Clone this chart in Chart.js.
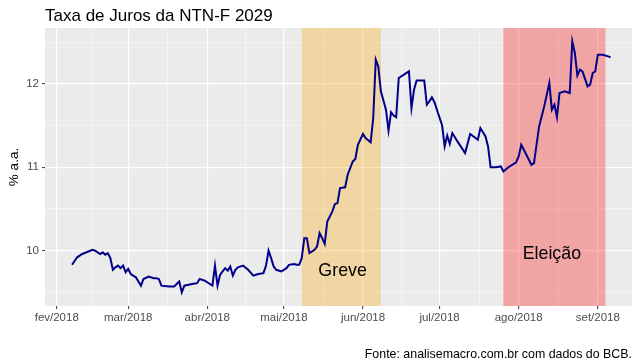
<!DOCTYPE html>
<html>
<head>
<meta charset="utf-8">
<script src="https://cdn.jsdelivr.net/npm/chart.js@4"></script>
<style>
  body { margin: 0; background: #ffffff; }
  canvas { display: block; }
</style>
</head>
<body>
<canvas id="chart" width="640" height="364"></canvas>
<script>
// NTN-F 2029 yield
const dates = [
  '2018-02-07', '2018-02-09', '2018-02-11', '2018-02-15', '2018-02-16', '2018-02-18', '2018-02-19', '2018-02-20',
  '2018-02-21', '2018-02-22', '2018-02-23', '2018-02-24', '2018-02-25', '2018-02-26', '2018-02-27', '2018-02-28',
  '2018-03-01', '2018-03-02', '2018-03-04', '2018-03-05', '2018-03-06', '2018-03-07', '2018-03-09', '2018-03-11',
  '2018-03-12', '2018-03-13', '2018-03-14', '2018-03-17', '2018-03-19', '2018-03-21', '2018-03-22', '2018-03-23',
  '2018-03-26', '2018-03-28', '2018-03-29', '2018-03-31', '2018-04-02', '2018-04-03', '2018-04-04', '2018-04-05',
  '2018-04-06', '2018-04-07', '2018-04-08', '2018-04-09', '2018-04-10', '2018-04-11', '2018-04-12', '2018-04-13',
  '2018-04-15', '2018-04-17', '2018-04-19', '2018-04-21', '2018-04-23', '2018-04-24', '2018-04-25', '2018-04-26',
  '2018-04-27', '2018-04-28', '2018-04-30', '2018-05-02', '2018-05-03', '2018-05-05', '2018-05-06', '2018-05-07',
  '2018-05-08', '2018-05-09', '2018-05-10', '2018-05-11', '2018-05-13', '2018-05-14', '2018-05-15', '2018-05-16',
  '2018-05-17', '2018-05-18', '2018-05-20', '2018-05-21', '2018-05-22', '2018-05-23', '2018-05-25', '2018-05-26',
  '2018-05-28', '2018-05-29', '2018-05-30', '2018-06-01', '2018-06-02', '2018-06-04', '2018-06-05', '2018-06-06',
  '2018-06-07', '2018-06-08', '2018-06-10', '2018-06-11', '2018-06-12', '2018-06-13', '2018-06-14', '2018-06-15',
  '2018-06-19', '2018-06-20', '2018-06-21', '2018-06-22', '2018-06-25', '2018-06-26', '2018-06-27', '2018-06-28',
  '2018-06-29', '2018-07-02', '2018-07-03', '2018-07-04', '2018-07-05', '2018-07-06', '2018-07-08', '2018-07-11',
  '2018-07-13', '2018-07-16', '2018-07-17', '2018-07-19', '2018-07-20', '2018-07-21', '2018-07-23', '2018-07-25',
  '2018-07-26', '2018-07-28', '2018-07-31', '2018-08-01', '2018-08-02', '2018-08-05', '2018-08-06', '2018-08-07',
  '2018-08-09', '2018-08-11', '2018-08-13', '2018-08-14', '2018-08-15', '2018-08-16', '2018-08-17', '2018-08-19',
  '2018-08-21', '2018-08-22', '2018-08-23', '2018-08-24', '2018-08-25', '2018-08-26', '2018-08-28', '2018-08-29',
  '2018-08-30', '2018-08-31', '2018-09-01', '2018-09-03', '2018-09-05', '2018-09-06'
];
const rates = [
  9.83, 9.92, 9.96, 10.01, 10.00, 9.96, 9.98, 9.95,
  9.97, 9.91, 9.77, 9.80, 9.82, 9.79, 9.82, 9.74,
  9.78, 9.72, 9.68, 9.63, 9.58, 9.66, 9.69, 9.67,
  9.67, 9.66, 9.58, 9.57, 9.57, 9.63, 9.50, 9.58,
  9.60, 9.61, 9.66, 9.64, 9.60, 9.58, 9.82, 9.58,
  9.71, 9.75, 9.79, 9.76, 9.81, 9.70, 9.77, 9.80,
  9.82, 9.77, 9.70, 9.72, 9.73, 9.82, 10.00, 9.91,
  9.81, 9.77, 9.75, 9.79, 9.83, 9.84, 9.83, 9.83,
  9.91, 10.15, 10.15, 9.97, 10.01, 10.05, 10.21, 10.15,
  10.08, 10.35, 10.47, 10.56, 10.57, 10.75, 10.76, 10.91,
  11.07, 11.10, 11.27, 11.40, 11.35, 11.30, 11.59, 12.29,
  12.21, 11.91, 11.69, 11.44, 11.66, 11.62, 11.60, 12.07,
  12.15, 11.71, 11.93, 12.04, 12.04, 11.75, 11.79, 11.84,
  11.78, 11.50, 11.25, 11.38, 11.28, 11.41, 11.31, 11.17,
  11.40, 11.33, 11.47, 11.37, 11.25, 11.00, 11.00, 11.01,
  10.95, 11.00, 11.06, 11.13, 11.27, 11.09, 11.03, 11.05,
  11.49, 11.73, 12.01, 11.69, 11.75, 11.60, 11.89, 11.91,
  11.89, 12.51, 12.37, 12.10, 12.17, 12.15, 11.97, 11.99,
  12.13, 12.15, 12.35, 12.35, 12.33, 12.32
];

const xTickDates = ['2018-02-01', '2018-03-01', '2018-04-01', '2018-05-01', '2018-06-01', '2018-07-01', '2018-08-01', '2018-09-01'];
const xTickLabels = ['fev/2018', 'mar/2018', 'abr/2018', 'mai/2018', 'jun/2018', 'jul/2018', 'ago/2018', 'set/2018'];
const yTicks = [9.5, 10, 10.5, 11, 11.5, 12, 12.5];

const bandNames = ['Greve', 'Eleição'];
const bandStarts = ['2018-05-08', '2018-07-26'];
const bandEnds = ['2018-06-08', '2018-09-04'];
const bandLabelDates = ['2018-05-24', '2018-08-14'];
const bandLabelValues = [9.70, 9.90];

const titleText = 'Taxa de Juros da NTN-F 2029';
const yTitleText = '% a.a.';
const captionText = 'Fonte: analisemacro.com.br com dados do BCB.';

// days since 2018-01-01
function dayNum(s) {
  const p = s.split('-').map(Number);
  return (Date.UTC(p[0], p[1] - 1, p[2]) - Date.UTC(2018, 0, 1)) / 86400000;
}

const FONT = "'Liberation Sans', Arial, sans-serif";
Chart.defaults.font.family = FONT;

const majorX = xTickDates.map(dayNum);
// minor breaks halfway between months, like ggplot
const minorX = [];
for (let i = 0; i < majorX.length - 1; i++) minorX.push((majorX[i] + majorX[i + 1]) / 2);
const allX = majorX.concat(minorX).sort((a, b) => a - b);

const isMajorX = v => majorX.includes(v);
const isMajorY = v => Number.isInteger(v);

const panelPlugin = {
  id: 'panel',
  beforeDraw(chart) {
    const { ctx, chartArea: a } = chart;
    ctx.save();
    ctx.fillStyle = '#ffffff';
    ctx.fillRect(0, 0, chart.width, chart.height);
    ctx.fillStyle = '#EBEBEB';
    ctx.fillRect(a.left, a.top, a.right - a.left, a.bottom - a.top);
    ctx.restore();
  },
  beforeDatasetsDraw(chart) {
    const { ctx, chartArea: a, scales } = chart;
    const colors = ['rgba(255,165,0,0.3)', 'rgba(255,0,0,0.3)'];
    ctx.save();
    bandNames.forEach((name, i) => {
      const x0 = scales.x.getPixelForValue(dayNum(bandStarts[i]));
      const x1 = scales.x.getPixelForValue(dayNum(bandEnds[i]));
      ctx.fillStyle = colors[i];
      ctx.fillRect(x0, a.top, x1 - x0, a.bottom - a.top);
    });
    ctx.restore();
  },
  afterDraw(chart) {
    const { ctx, chartArea: a, scales } = chart;
    ctx.save();
    ctx.fillStyle = '#000000';

    // band labels
    ctx.font = '17.8px ' + FONT;
    ctx.textAlign = 'center';
    ctx.textBaseline = 'alphabetic';
    bandNames.forEach((name, i) => {
      ctx.fillText(name,
        scales.x.getPixelForValue(dayNum(bandLabelDates[i])),
        scales.y.getPixelForValue(bandLabelValues[i]));
    });

    // title
    ctx.font = '17px ' + FONT;
    ctx.textAlign = 'left';
    ctx.fillText(titleText, a.left, 21);

    // y axis title
    ctx.font = '13.5px ' + FONT;
    ctx.textAlign = 'center';
    ctx.textBaseline = 'middle';
    ctx.translate(14, (a.top + a.bottom) / 2);
    ctx.rotate(-Math.PI / 2);
    ctx.fillText(yTitleText, 0, 0);
    ctx.setTransform(1, 0, 0, 1, 0, 0);

    // caption
    ctx.font = '12.4px ' + FONT;
    ctx.textAlign = 'right';
    ctx.textBaseline = 'alphabetic';
    ctx.fillText(captionText, a.right, 358);
    ctx.restore();
  }
};

new Chart(document.getElementById('chart'), {
  type: 'line',
  data: {
    datasets: [{
      data: dates.map((d, i) => ({ x: dayNum(d), y: rates[i] })),
      borderColor: '#00008B',
      borderWidth: 2,
      pointRadius: 0,
      tension: 0,
      fill: false
    }]
  },
  options: {
    responsive: false,
    animation: false,
    layout: { padding: { left: 0, right: 8, top: 28, bottom: 0 } },
    plugins: {
      legend: { display: false },
      tooltip: { enabled: false }
    },
    scales: {
      x: {
        type: 'linear',
        min: 26.4,
        max: 256.4,
        afterBuildTicks: scale => { scale.ticks = allX.map(v => ({ value: v })); },
        afterFit: scale => { scale.height = 58; },
        border: { display: false },
        grid: {
          color: ctx => isMajorX(ctx.tick.value) ? '#ffffff' : 'rgba(255,255,255,0.75)',
          lineWidth: ctx => isMajorX(ctx.tick.value) ? 1.2 : 0.6,
          tickColor: ctx => isMajorX(ctx.tick.value) ? '#333333' : 'rgba(0,0,0,0)',
          tickLength: 3,
          tickWidth: 1
        },
        ticks: {
          autoSkip: false,
          maxRotation: 0,
          padding: 2,
          color: '#4D4D4D',
          font: { size: 11.5 },
          callback: value => {
            const i = majorX.indexOf(value);
            return i >= 0 ? xTickLabels[i] : '';
          }
        }
      },
      y: {
        min: 9.336,
        max: 12.67,
        afterBuildTicks: scale => { scale.ticks = yTicks.map(v => ({ value: v })); },
        afterFit: scale => { scale.width = 45; },
        border: { display: false },
        grid: {
          color: ctx => isMajorY(ctx.tick.value) ? '#ffffff' : 'rgba(255,255,255,0.75)',
          lineWidth: ctx => isMajorY(ctx.tick.value) ? 1.2 : 0.6,
          tickColor: ctx => isMajorY(ctx.tick.value) ? '#333333' : 'rgba(0,0,0,0)',
          tickLength: 3,
          tickWidth: 1
        },
        ticks: {
          padding: 3,
          color: '#4D4D4D',
          font: { size: 11.5 },
          callback: value => isMajorY(value) ? String(value) : ''
        }
      }
    }
  },
  plugins: [panelPlugin]
});
</script>
</body>
</html>
